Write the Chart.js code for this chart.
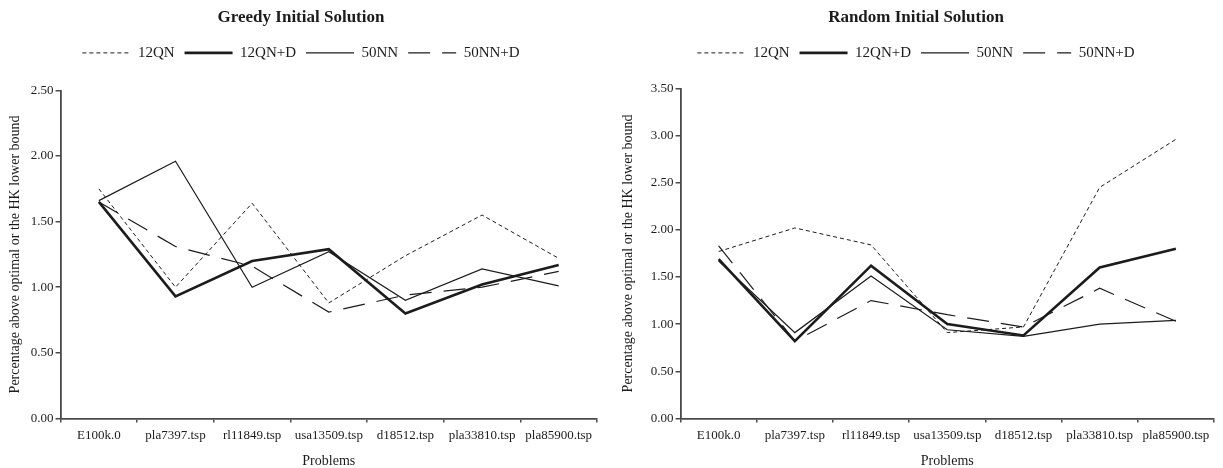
<!DOCTYPE html>
<html>
<head>
<meta charset="utf-8">
<script src="https://cdn.jsdelivr.net/npm/chart.js@4.4.1/dist/chart.umd.min.js"></script>
<style>
  html, body { margin: 0; padding: 0; background: #fff; }
  #wrap { position: relative; width: 1223px; height: 468px; }
  #c-greedy { position: absolute; left: 0; top: 0; }
  #c-random { position: absolute; left: 612px; top: 0; }
</style>
</head>
<body>
<div id="wrap">
  <canvas id="c-greedy" width="612" height="468"></canvas>
  <canvas id="c-random" width="611" height="468"></canvas>
</div>
<script>
'use strict';

// Datos
var problems = ['E100k.0', 'pla7397.tsp', 'rl11849.tsp', 'usa13509.tsp', 'd18512.tsp', 'pla33810.tsp', 'pla85900.tsp'];
var seriesNames = ['12QN', '12QN+D', '50NN', '50NN+D'];

var greedy12QN  = [1.75, 1.00, 1.64, 0.88, 1.24, 1.55, 1.22];
var greedy12QND = [1.65, 0.93, 1.20, 1.29, 0.80, 1.02, 1.17];
var greedy50NN  = [1.66, 1.96, 1.00, 1.27, 0.90, 1.14, 1.01];
var greedy50NND = [1.65, 1.31, 1.16, 0.81, 0.94, 1.00, 1.12];

var random12QN  = [1.77, 2.02, 1.84, 0.91, 0.97, 2.45, 2.96];
var random12QND = [1.69, 0.82, 1.62, 1.00, 0.88, 1.60, 1.80];
var random50NN  = [1.67, 0.91, 1.51, 0.94, 0.87, 1.00, 1.04];
var random50NND = [1.83, 0.82, 1.25, 1.10, 0.97, 1.38, 1.03];

var FONT = 'Liberation Serif';
var INK = '#1c1c1c';
var AXIS = '#4a4a4a';

// estilos por serie: guiones cortos, grueso, fino, guiones largos
var lineStyles = [
  { width: 1, dash: [4, 3] },
  { width: 2.6, dash: [] },
  { width: 1.2, dash: [] },
  { width: 1.2, dash: [22, 12] }
];

// espacio extra bajo la leyenda
function legendGap(extra) {
  return {
    id: 'legendGap',
    beforeInit: function (chart) {
      var fit = chart.legend.fit;
      chart.legend.fit = function () {
        fit.call(this);
        this.height += extra;
      };
    }
  };
}

// la leyenda con pointStyle no toma el borderDash del dataset
function legendLabels(chart) {
  var items = Chart.defaults.plugins.legend.labels.generateLabels(chart);
  for (var i = 0; i < items.length; i++) {
    var s = lineStyles[items[i].datasetIndex];
    items[i].lineDash = s.dash;
    items[i].lineWidth = s.width;
    items[i].strokeStyle = INK;
    items[i].pointStyle = 'line';
  }
  return items;
}

function buildChart(canvasId, title, series, yMax, pad, yTitlePad, gap) {
  var datasets = [];
  for (var i = 0; i < series.length; i++) {
    datasets.push({
      label: seriesNames[i],
      data: series[i],
      borderColor: INK,
      backgroundColor: INK,
      borderWidth: lineStyles[i].width,
      borderDash: lineStyles[i].dash,
      pointRadius: 0,
      pointHoverRadius: 0,
      tension: 0,
      fill: false
    });
  }

  return new Chart(document.getElementById(canvasId).getContext('2d'), {
    type: 'line',
    data: { labels: problems, datasets: datasets },
    plugins: [legendGap(gap)],
    options: {
      responsive: false,
      animation: false,
      layout: { padding: pad },
      plugins: {
        title: {
          display: true,
          text: title,
          color: INK,
          font: { family: FONT, size: 17, weight: 'bold' },
          padding: { top: 7, bottom: 8 }
        },
        legend: {
          display: true,
          labels: {
            usePointStyle: true,
            pointStyleWidth: 48,
            color: INK,
            padding: 10,
            font: { family: FONT, size: 15 },
            generateLabels: legendLabels
          }
        },
        tooltip: { enabled: false }
      },
      scales: {
        x: {
          offset: true,
          grid: { offset: true, drawOnChartArea: false, tickLength: 4, color: AXIS, lineWidth: 1.5 },
          border: { color: AXIS, width: 1.8 },
          ticks: { color: INK, padding: 5, maxRotation: 0, autoSkip: false, font: { family: FONT, size: 13 } },
          title: {
            display: true,
            text: 'Problems',
            color: INK,
            font: { family: FONT, size: 14, lineHeight: 1 },
            padding: { top: 6, bottom: 0 }
          }
        },
        y: {
          min: 0,
          max: yMax,
          grid: { drawOnChartArea: false, tickLength: 5, color: AXIS, lineWidth: 1.5 },
          border: { color: AXIS, width: 1.8 },
          ticks: {
            stepSize: 0.5,
            color: INK,
            padding: 2,
            font: { family: FONT, size: 13 },
            callback: function (v) { return Number(v).toFixed(2); }
          },
          title: {
            display: true,
            text: 'Percentage above optimal or the HK lower bound',
            color: INK,
            font: { family: FONT, size: 14 },
            padding: yTitlePad
          }
        }
      }
    }
  });
}

buildChart('c-greedy', 'Greedy Initial Solution',
  [greedy12QN, greedy12QND, greedy50NN, greedy50NND], 2.5,
  { left: 5, right: 15, top: 0, bottom: 0 }, { top: 2, bottom: 5 }, 20);

buildChart('c-random', 'Random Initial Solution',
  [random12QN, random12QND, random50NN, random50NND], 3.5,
  { left: 6, right: 9, top: 0, bottom: 0 }, { top: 2, bottom: 12 }, 18);
</script>
</body>
</html>
